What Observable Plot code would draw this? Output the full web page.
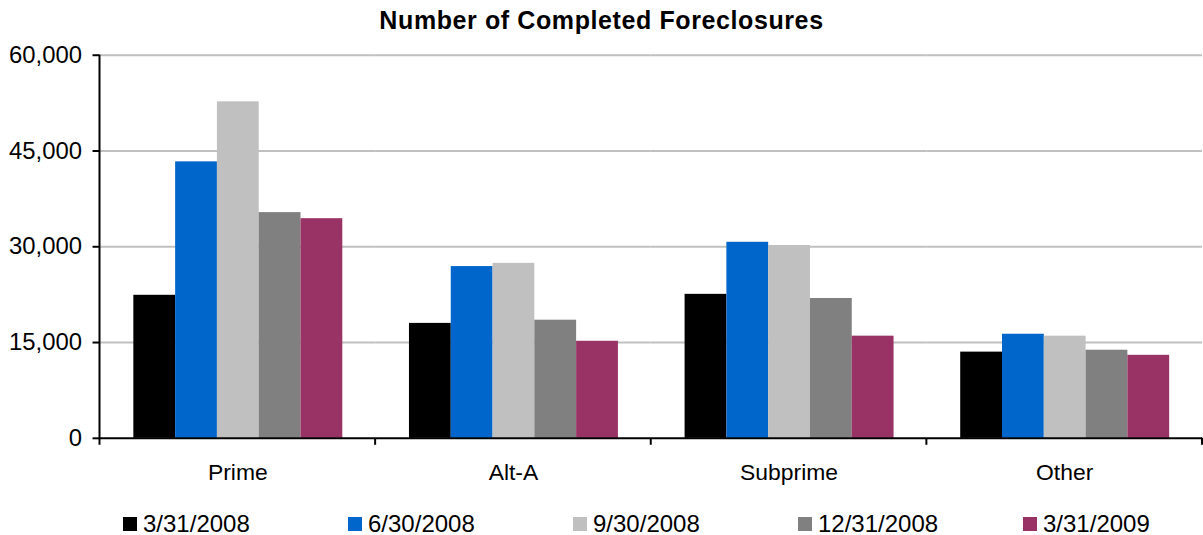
<!DOCTYPE html>
<html>
<head>
<meta charset="utf-8">
<script src="https://cdn.jsdelivr.net/npm/d3@7"></script>
<script src="https://cdn.jsdelivr.net/npm/@observablehq/plot@0.6"></script>
<style>
  html, body { margin: 0; padding: 0; background: #fff; overflow: hidden; }
  body { width: 1203px; height: 535px; position: relative; font-family: "Liberation Sans", Arial, sans-serif; }
  #title { position: absolute; top: 5px; left: 0; width: 1203px; text-align: center; font-weight: bold; font-size: 25px; letter-spacing: 0.6px; color: #000; line-height: 30px; }
  #chart { position: absolute; top: 0; left: 0; }
  #legend { position: absolute; top: 510px; left: 123px; display: flex; }
  .item { width: 225px; display: flex; align-items: center; font-size: 24px; color: #000; line-height: 28px; }
  .sw { width: 14px; height: 14px; margin-right: 6px; }
</style>
</head>
<body>
<div id="chart"></div>
<div id="title">Number of Completed Foreclosures</div>
<div id="legend"></div>
<script>
const categories = ["Prime", "Alt-A", "Subprime", "Other"];
const seriesNames = ["3/31/2008", "6/30/2008", "9/30/2008", "12/31/2008", "3/31/2009"];
const seriesColors = ["#000000", "#0066CC", "#C0C0C0", "#808080", "#993366"];
const v_3_31_2008 = [22400, 18000, 22550, 13500];
const v_6_30_2008 = [43300, 26900, 30700, 16300];
const v_9_30_2008 = [52700, 27400, 30200, 16000];
const v_12_31_2008 = [35350, 18500, 21900, 13800];
const v_3_31_2009 = [34400, 15200, 16000, 13000];
const yTicks = [0, 15000, 30000, 45000, 60000];

const seriesValues = [v_3_31_2008, v_6_30_2008, v_9_30_2008, v_12_31_2008, v_3_31_2009];
const data = [];
categories.forEach((c, i) => {
  seriesNames.forEach((s, j) => data.push({category: c, series: s, value: seriesValues[j][i]}));
});

const fontFamily = '"Liberation Sans", Arial, sans-serif';

const chart = Plot.plot({
  width: 1209,
  height: 535,
  marginLeft: 99,
  marginRight: 1,
  marginTop: 55,
  marginBottom: 95,
  style: {fontFamily, fontSize: "24px", color: "#000", background: "transparent", overflow: "visible"},
  fx: {domain: categories, padding: 0, label: null},
  x: {domain: seriesNames, paddingInner: 0, paddingOuter: 0.74, axis: null},
  y: {domain: [0, 60000], label: null},
  color: {domain: seriesNames, range: seriesColors},
  marks: [
    Plot.gridY(yTicks.filter(d => d > 0), {stroke: "#C0C0C0", strokeOpacity: 1, strokeWidth: 2}),
    Plot.barY(data, {fx: "category", x: "series", y: "value", fill: "series"}),
    Plot.ruleY([0], {stroke: "#000", strokeWidth: 2}),
    Plot.axisY({ticks: yTicks, tickFormat: d3.format(","), tickSize: 7, tickPadding: 11, strokeWidth: 2, fontSize: 24, label: null}),
    Plot.axisFx({anchor: "bottom", tickSize: 0, tickPadding: 26, fontSize: 23, label: null})
  ]
});
document.getElementById("chart").appendChild(chart);

// axis line and category boundary ticks, placed with the plot's own scales
const fx = chart.scale("fx");
const y = chart.scale("y");
const svg = d3.select(chart);
const g = svg.append("g").attr("stroke", "#000").attr("stroke-width", 2);
const x0 = fx.apply(categories[0]);
g.append("line").attr("x1", x0).attr("x2", x0).attr("y1", y.apply(60000)).attr("y2", y.apply(0) + 7);
const bounds = categories.slice(1).map(c => fx.apply(c)).concat([fx.apply(categories[categories.length - 1]) + fx.bandwidth]);
bounds.forEach(b => g.append("line").attr("x1", b).attr("x2", b).attr("y1", y.apply(0)).attr("y2", y.apply(0) + 7));

const legend = d3.select("#legend");
seriesNames.forEach((s, i) => {
  const it = legend.append("div").attr("class", "item");
  it.append("div").attr("class", "sw").style("background", seriesColors[i]);
  it.append("span").text(s);
});
</script>
</body>
</html>
